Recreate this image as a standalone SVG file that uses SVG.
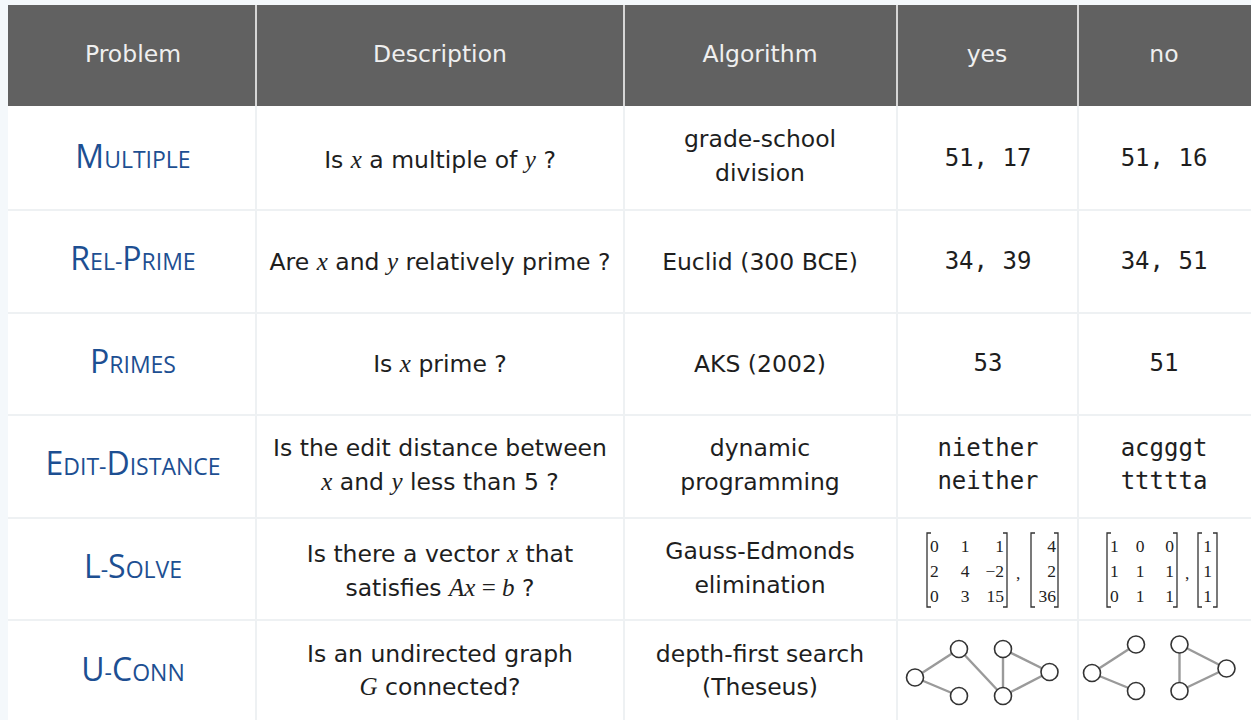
<svg xmlns="http://www.w3.org/2000/svg" width="1251" height="720" viewBox="0 0 1251 720">
  <style>
    .hd { font-family: "DejaVu Sans", "Liberation Sans", sans-serif; font-size: 23.5px; fill: #efefef; text-anchor: middle; }
    .nm { font-family: "Open Sans", "Lato", sans-serif; fill: #1d4f92; text-anchor: middle; }
    .big { font-size: 32px; }
    .sm { font-size: 23px; }
    .tx { font-family: "DejaVu Sans", "Liberation Sans", sans-serif; font-size: 23.5px; fill: #1e1e1e; text-anchor: middle; }
    .mi { font-family: "Liberation Serif", "Times New Roman", serif; font-style: italic; font-size: 25px; }
    .mr { font-family: "Liberation Serif", "Times New Roman", serif; font-size: 25px; }
    .mono { font-family: "DejaVu Sans Mono", "Liberation Mono", monospace; font-size: 24px; fill: #1e1e1e; text-anchor: middle; }
    .mx { font-family: "Liberation Serif", "Times New Roman", serif; font-size: 17.5px; fill: #222; }
    .br { fill: none; stroke: #333; stroke-width: 1.3; }
    .grid { stroke: #eef1f3; stroke-width: 2; }
    .hsep { stroke: #d6d6d6; stroke-width: 2; }
    .edge { stroke: #9a9a9a; stroke-width: 2.4; }
    .vtx { fill: #fff; stroke: #333; stroke-width: 1.6; }
  </style>

  <!-- page and table body -->
  <rect x="0" y="0" width="1251" height="720" fill="#f4f8fb"/>
  <rect x="8" y="5" width="1243" height="715" fill="#ffffff"/>

  <!-- header band -->
  <g id="header">
    <rect x="8" y="5" width="1243" height="101" fill="#616161"/>
    <line class="hsep" x1="256" y1="5" x2="256" y2="106"/>
    <line class="hsep" x1="624" y1="5" x2="624" y2="106"/>
    <line class="hsep" x1="897" y1="5" x2="897" y2="106"/>
    <line class="hsep" x1="1078" y1="5" x2="1078" y2="106"/>
    <text class="hd" x="133" y="62">Problem</text>
    <text class="hd" x="440" y="62">Description</text>
    <text class="hd" x="760" y="62">Algorithm</text>
    <text class="hd" x="987" y="62">yes</text>
    <text class="hd" x="1164" y="62">no</text>
  </g>

  <!-- grid lines of the body -->
  <g id="grid">
    <line class="grid" x1="8" y1="210" x2="1251" y2="210"/>
    <line class="grid" x1="8" y1="313" x2="1251" y2="313"/>
    <line class="grid" x1="8" y1="415" x2="1251" y2="415"/>
    <line class="grid" x1="8" y1="518" x2="1251" y2="518"/>
    <line class="grid" x1="8" y1="620" x2="1251" y2="620"/>
    <line class="grid" x1="256" y1="106" x2="256" y2="720"/>
    <line class="grid" x1="624" y1="106" x2="624" y2="720"/>
    <line class="grid" x1="897" y1="106" x2="897" y2="720"/>
    <line class="grid" x1="1078" y1="106" x2="1078" y2="720"/>
  </g>

  <!-- row: MULTIPLE -->
  <g id="row-multiple">
    <text class="nm" x="133" y="168"><tspan class="big">M</tspan><tspan class="sm">ULTIPLE</tspan></text>
    <text class="tx" x="440" y="168">Is <tspan class="mi">x</tspan> a multiple of <tspan class="mi">y</tspan> ?</text>
    <text class="tx" x="760" y="147">grade-school</text>
    <text class="tx" x="760" y="181">division</text>
    <text class="mono" x="988" y="166">51, 17</text>
    <text class="mono" x="1164" y="166">51, 16</text>
  </g>

  <!-- row: REL-PRIME -->
  <g id="row-relprime">
    <text class="nm" x="133" y="270"><tspan class="big">R</tspan><tspan class="sm">EL-</tspan><tspan class="big">P</tspan><tspan class="sm">RIME</tspan></text>
    <text class="tx" x="440" y="270">Are <tspan class="mi">x</tspan> and <tspan class="mi">y</tspan> relatively prime ?</text>
    <text class="tx" x="760" y="270">Euclid (300 BCE)</text>
    <text class="mono" x="988" y="269">34, 39</text>
    <text class="mono" x="1164" y="269">34, 51</text>
  </g>

  <!-- row: PRIMES -->
  <g id="row-primes">
    <text class="nm" x="133" y="373"><tspan class="big">P</tspan><tspan class="sm">RIMES</tspan></text>
    <text class="tx" x="440" y="372">Is <tspan class="mi">x</tspan> prime ?</text>
    <text class="tx" x="760" y="372">AKS (2002)</text>
    <text class="mono" x="988" y="371">53</text>
    <text class="mono" x="1164" y="371">51</text>
  </g>

  <!-- row: EDIT-DISTANCE -->
  <g id="row-editdistance">
    <text class="nm" x="133" y="475"><tspan class="big">E</tspan><tspan class="sm">DIT-</tspan><tspan class="big">D</tspan><tspan class="sm">ISTANCE</tspan></text>
    <text class="tx" x="440" y="456">Is the edit distance between</text>
    <text class="tx" x="440" y="490"><tspan class="mi">x</tspan> and <tspan class="mi">y</tspan> less than 5 ?</text>
    <text class="tx" x="760" y="456">dynamic</text>
    <text class="tx" x="760" y="490">programming</text>
    <text class="mono" x="988" y="456">niether</text>
    <text class="mono" x="988" y="489">neither</text>
    <text class="mono" x="1164" y="456">acgggt</text>
    <text class="mono" x="1164" y="489">ttttta</text>
  </g>

  <!-- row: L-SOLVE -->
  <g id="row-lsolve">
    <text class="nm" x="133" y="578"><tspan class="big">L</tspan><tspan class="sm">-</tspan><tspan class="big">S</tspan><tspan class="sm">OLVE</tspan></text>
    <text class="tx" x="440" y="562">Is there a vector <tspan class="mi">x</tspan> that</text>
    <text class="tx" x="440" y="596">satisfies <tspan class="mi">Ax</tspan><tspan class="mr"> = </tspan><tspan class="mi">b</tspan> ?</text>
    <text class="tx" x="760" y="559">Gauss-Edmonds</text>
    <text class="tx" x="760" y="593">elimination</text>

    <!-- yes instance: 3x3 matrix and right-hand side -->
    <g id="mat-yes">
      <path class="br" d="M931,533 H927 V607 H931"/>
      <path class="br" d="M1003,533 H1007 V607 H1003"/>
      <text class="mx" x="930" y="552">0</text>
      <text class="mx" x="930" y="577">2</text>
      <text class="mx" x="930" y="602">0</text>
      <text class="mx" x="965" y="552" text-anchor="middle">1</text>
      <text class="mx" x="965" y="577" text-anchor="middle">4</text>
      <text class="mx" x="965" y="602" text-anchor="middle">3</text>
      <text class="mx" x="1004" y="552" text-anchor="end">1</text>
      <text class="mx" x="1004" y="577" text-anchor="end">−2</text>
      <text class="mx" x="1004" y="602" text-anchor="end">15</text>
      <text class="mx" x="1016" y="579">,</text>
      <path class="br" d="M1035,533 H1031 V607 H1035"/>
      <path class="br" d="M1054,533 H1058 V607 H1054"/>
      <text class="mx" x="1056" y="552" text-anchor="end">4</text>
      <text class="mx" x="1056" y="577" text-anchor="end">2</text>
      <text class="mx" x="1056" y="602" text-anchor="end">36</text>
    </g>

    <!-- no instance: 3x3 matrix and right-hand side -->
    <g id="mat-no">
      <path class="br" d="M1111,533 H1107 V607 H1111"/>
      <path class="br" d="M1173,533 H1177 V607 H1173"/>
      <text class="mx" x="1110" y="552">1</text>
      <text class="mx" x="1110" y="577">1</text>
      <text class="mx" x="1110" y="602">0</text>
      <text class="mx" x="1140" y="552" text-anchor="middle">0</text>
      <text class="mx" x="1140" y="577" text-anchor="middle">1</text>
      <text class="mx" x="1140" y="602" text-anchor="middle">1</text>
      <text class="mx" x="1174" y="552" text-anchor="end">0</text>
      <text class="mx" x="1174" y="577" text-anchor="end">1</text>
      <text class="mx" x="1174" y="602" text-anchor="end">1</text>
      <text class="mx" x="1185" y="579">,</text>
      <path class="br" d="M1202,533 H1198 V607 H1202"/>
      <path class="br" d="M1213,533 H1217 V607 H1213"/>
      <text class="mx" x="1207.5" y="552" text-anchor="middle">1</text>
      <text class="mx" x="1207.5" y="577" text-anchor="middle">1</text>
      <text class="mx" x="1207.5" y="602" text-anchor="middle">1</text>
    </g>
  </g>

  <!-- row: U-CONN -->
  <g id="row-uconn">
    <text class="nm" x="133" y="681"><tspan class="big">U</tspan><tspan class="sm">-</tspan><tspan class="big">C</tspan><tspan class="sm">ONN</tspan></text>
    <text class="tx" x="440" y="662">Is an undirected graph</text>
    <text class="tx" x="440" y="695"><tspan class="mi">G</tspan> connected?</text>
    <text class="tx" x="760" y="662">depth-first search</text>
    <text class="tx" x="760" y="695">(Theseus)</text>
  </g>

  <!-- connected example graph (edges) -->
  <g id="edges-yes">
    <line class="edge" x1="915" y1="677.5" x2="959" y2="649"/>
    <line class="edge" x1="915" y1="677.5" x2="959" y2="696"/>
    <line class="edge" x1="959" y1="649" x2="1003" y2="696"/>
    <line class="edge" x1="1003" y1="649" x2="1003" y2="696"/>
    <line class="edge" x1="1003" y1="649" x2="1049.5" y2="672"/>
    <line class="edge" x1="1003" y1="696" x2="1049.5" y2="672"/>
  </g>
  <!-- disconnected example graph (edges) -->
  <g id="edges-no">
    <line class="edge" x1="1092" y1="673" x2="1136" y2="644.5"/>
    <line class="edge" x1="1092" y1="673" x2="1136" y2="691"/>
    <line class="edge" x1="1179.5" y1="644.5" x2="1179.5" y2="691"/>
    <line class="edge" x1="1179.5" y1="644.5" x2="1226.5" y2="668.5"/>
    <line class="edge" x1="1179.5" y1="691" x2="1226.5" y2="668.5"/>
  </g>

  <!-- graph vertices -->
  <g id="v-yes-a"><circle class="vtx" cx="915" cy="677.5" r="8.5"/></g>
  <g id="v-yes-b"><circle class="vtx" cx="959" cy="649" r="8.5"/></g>
  <g id="v-yes-c"><circle class="vtx" cx="959" cy="696" r="8.5"/></g>
  <g id="v-yes-d"><circle class="vtx" cx="1003" cy="649" r="8.5"/></g>
  <g id="v-yes-e"><circle class="vtx" cx="1003" cy="696" r="8.5"/></g>
  <g id="v-yes-f"><circle class="vtx" cx="1049.5" cy="672" r="8.5"/></g>
  <g id="v-no-a"><circle class="vtx" cx="1092" cy="673" r="8.5"/></g>
  <g id="v-no-b"><circle class="vtx" cx="1136" cy="644.5" r="8.5"/></g>
  <g id="v-no-c"><circle class="vtx" cx="1136" cy="691" r="8.5"/></g>
  <g id="v-no-d"><circle class="vtx" cx="1179.5" cy="644.5" r="8.5"/></g>
  <g id="v-no-e"><circle class="vtx" cx="1179.5" cy="691" r="8.5"/></g>
  <g id="v-no-f"><circle class="vtx" cx="1226.5" cy="668.5" r="8.5"/></g>
</svg>
